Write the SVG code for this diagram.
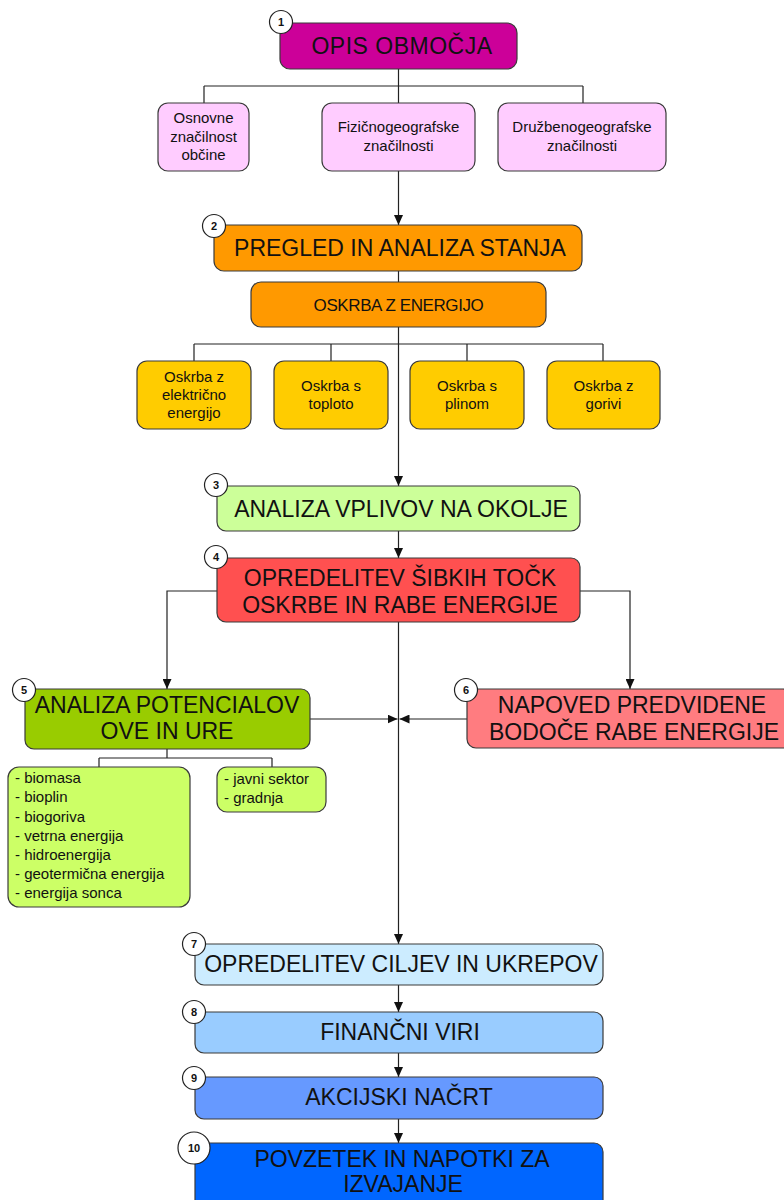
<svg xmlns="http://www.w3.org/2000/svg" width="784" height="1200" viewBox="0 0 784 1200">
<defs>
<marker id="arr" markerUnits="userSpaceOnUse" markerWidth="10" markerHeight="9" refX="10" refY="4.5" orient="auto">
<path d="M0,0 L10,4.5 L0,9 z" fill="#111"/>
</marker>
<style>
.box{stroke:#3a3a3a;stroke-width:1.2}
.big{font-family:"Liberation Sans",Arial,sans-serif;font-size:23px;fill:#111;text-anchor:middle}
.mid{font-family:"Liberation Sans",Arial,sans-serif;font-size:17px;fill:#111;text-anchor:middle;letter-spacing:-0.4px}
.sm{font-family:"Liberation Sans",Arial,sans-serif;font-size:15px;fill:#111;text-anchor:middle}
.lst{font-family:"Liberation Sans",Arial,sans-serif;font-size:15px;fill:#111}
.num{font-family:"Liberation Sans",Arial,sans-serif;font-size:11px;font-weight:bold;fill:#111;text-anchor:middle}
.badge{fill:#fff;stroke:#222;stroke-width:1.2}
.ln{fill:none;stroke:#222;stroke-width:1.2}
.la{fill:none;stroke:#222;stroke-width:1.2;marker-end:url(#arr)}
</style>
</defs>
<rect width="784" height="1200" fill="#fff"/>

<g id="connectors">
<path class="ln" d="M398.5,69 V86 M204,86 H583 M204,86 V103 M398.5,86 V103 M583,86 V103"/>
<path class="la" d="M398.5,171 V225"/>
<path class="ln" d="M398.5,271 V282"/>
<path class="la" d="M398.5,327 V486"/>
<path class="ln" d="M194,344 H603 M194,344 V361 M331,344 V361 M467,344 V361 M603,344 V361"/>
<path class="la" d="M398.5,531 V558"/>
<path class="la" d="M217,591 H167 V689"/>
<path class="la" d="M580,591 H630 V689"/>
<path class="la" d="M398.5,622 V944"/>
<path class="la" d="M310,719 H397.5"/>
<path class="la" d="M467,719 H399.5"/>
<path class="ln" d="M167,749 V758 M99,758 H272 M99,758 V767 M272,758 V767"/>
<path class="la" d="M398.5,985 V1012"/>
<path class="la" d="M398.5,1053 V1077"/>
<path class="la" d="M398.5,1119 V1143"/>
</g>

<g id="n1">
<rect class="box" x="280" y="23" width="237" height="46" rx="10" fill="#CC0099"/>
<text class="big" x="402" y="54" letter-spacing="0.5">OPIS OBMOČJA</text>
<circle class="badge" cx="281" cy="22" r="11.5"/>
<text class="num" x="281" y="26">1</text>
</g>
<g id="n1a">
<rect class="box" x="158" y="103" width="91" height="68" rx="10" fill="#FFCCFF"/>
<text class="sm" x="203.5" y="123">Osnovne</text>
<text class="sm" x="203.5" y="141.5">značilnost</text>
<text class="sm" x="203.5" y="160">občine</text>
</g>
<g id="n1b">
<rect class="box" x="322" y="103" width="153" height="68" rx="10" fill="#FFCCFF"/>
<text class="sm" x="398.5" y="132">Fizičnogeografske</text>
<text class="sm" x="398.5" y="151">značilnosti</text>
</g>
<g id="n1c">
<rect class="box" x="498" y="103" width="168" height="68" rx="10" fill="#FFCCFF"/>
<text class="sm" x="582" y="132">Družbenogeografske</text>
<text class="sm" x="582" y="151">značilnosti</text>
</g>

<g id="n2">
<rect class="box" x="214" y="225" width="368" height="46" rx="10" fill="#FF9900"/>
<text class="big" x="400" y="256">PREGLED IN ANALIZA STANJA</text>
<circle class="badge" cx="214" cy="226" r="11.5"/>
<text class="num" x="214" y="230">2</text>
</g>
<g id="n2a">
<rect class="box" x="251" y="282" width="295" height="45" rx="10" fill="#FF9900"/>
<text class="mid" x="398.5" y="311">OSKRBA Z ENERGIJO</text>
</g>
<g id="n2b">
<rect class="box" x="137" y="361" width="114" height="68" rx="10" fill="#FFCC00"/>
<text class="sm" x="194" y="382">Oskrba z</text>
<text class="sm" x="194" y="400">električno</text>
<text class="sm" x="194" y="418">energijo</text>
</g>
<g id="n2c">
<rect class="box" x="274" y="361" width="114" height="68" rx="10" fill="#FFCC00"/>
<text class="sm" x="331" y="391">Oskrba s</text>
<text class="sm" x="331" y="409">toploto</text>
</g>
<g id="n2d">
<rect class="box" x="410" y="361" width="114" height="68" rx="10" fill="#FFCC00"/>
<text class="sm" x="467" y="391">Oskrba s</text>
<text class="sm" x="467" y="409">plinom</text>
</g>
<g id="n2e">
<rect class="box" x="547" y="361" width="113" height="68" rx="10" fill="#FFCC00"/>
<text class="sm" x="603.5" y="391">Oskrba z</text>
<text class="sm" x="603.5" y="409">gorivi</text>
</g>

<g id="n3">
<rect class="box" x="217" y="486" width="363" height="45" rx="9" fill="#CCFF99"/>
<text class="big" x="401" y="517">ANALIZA VPLIVOV NA OKOLJE</text>
<circle class="badge" cx="216" cy="485" r="11.5"/>
<text class="num" x="216" y="489">3</text>
</g>

<g id="n4">
<rect class="box" x="217" y="558" width="363" height="64" rx="9" fill="#FF5050"/>
<text class="big" x="400" y="586">OPREDELITEV ŠIBKIH TOČK</text>
<text class="big" x="400" y="613">OSKRBE IN RABE ENERGIJE</text>
<circle class="badge" cx="216" cy="557" r="11.5"/>
<text class="num" x="216" y="561">4</text>
</g>

<g id="n5">
<rect class="box" x="25" y="689" width="285" height="60" rx="9" fill="#99CC00"/>
<text class="big" x="167" y="713">ANALIZA POTENCIALOV</text>
<text class="big" x="167" y="739">OVE IN URE</text>
<circle class="badge" cx="24" cy="690" r="11.5"/>
<text class="num" x="24" y="694">5</text>
</g>
<g id="n5a">
<rect class="box" x="8" y="767" width="182" height="140" rx="11" fill="#CCFF66"/>
<text class="lst" x="15" y="783">- biomasa</text>
<text class="lst" x="15" y="802">- bioplin</text>
<text class="lst" x="15" y="822">- biogoriva</text>
<text class="lst" x="15" y="841">- vetrna energija</text>
<text class="lst" x="15" y="860">- hidroenergija</text>
<text class="lst" x="15" y="879">- geotermična energija</text>
<text class="lst" x="15" y="898">- energija sonca</text>
</g>
<g id="n5b">
<rect class="box" x="217" y="767" width="109" height="45" rx="10" fill="#CCFF66"/>
<text class="lst" x="224" y="784">- javni sektor</text>
<text class="lst" x="224" y="803">- gradnja</text>
</g>

<g id="n6">
<rect class="box" x="467" y="689" width="325" height="59" rx="9" fill="#FF7C80"/>
<text class="big" x="632" y="713">NAPOVED PREDVIDENE</text>
<text class="big" x="634" y="740">BODOČE RABE ENERGIJE</text>
<circle class="badge" cx="466" cy="690" r="11.5"/>
<text class="num" x="466" y="694">6</text>
</g>

<g id="n7">
<rect class="box" x="195" y="944" width="408" height="41" rx="9" fill="#CCECFF"/>
<text class="big" x="401" y="972">OPREDELITEV CILJEV IN UKREPOV</text>
<circle class="badge" cx="194" cy="944" r="11.5"/>
<text class="num" x="194" y="948">7</text>
</g>
<g id="n8">
<rect class="box" x="195" y="1012" width="408" height="41" rx="9" fill="#99CCFF"/>
<text class="big" x="400" y="1040">FINANČNI VIRI</text>
<circle class="badge" cx="194" cy="1012" r="11.5"/>
<text class="num" x="194" y="1016">8</text>
</g>
<g id="n9">
<rect class="box" x="195" y="1077" width="408" height="42" rx="9" fill="#6699FF"/>
<text class="big" x="399" y="1105">AKCIJSKI NAČRT</text>
<circle class="badge" cx="194" cy="1078" r="11.5"/>
<text class="num" x="194" y="1082">9</text>
</g>
<g id="n10">
<rect class="box" x="195" y="1143" width="408" height="70" rx="9" fill="#0066FF"/>
<text class="big" x="402" y="1167">POVZETEK IN NAPOTKI ZA</text>
<text class="big" x="403" y="1192">IZVAJANJE</text>
<circle class="badge" cx="194" cy="1148" r="16"/>
<text class="num" x="194" y="1152">10</text>
</g>
</svg>
